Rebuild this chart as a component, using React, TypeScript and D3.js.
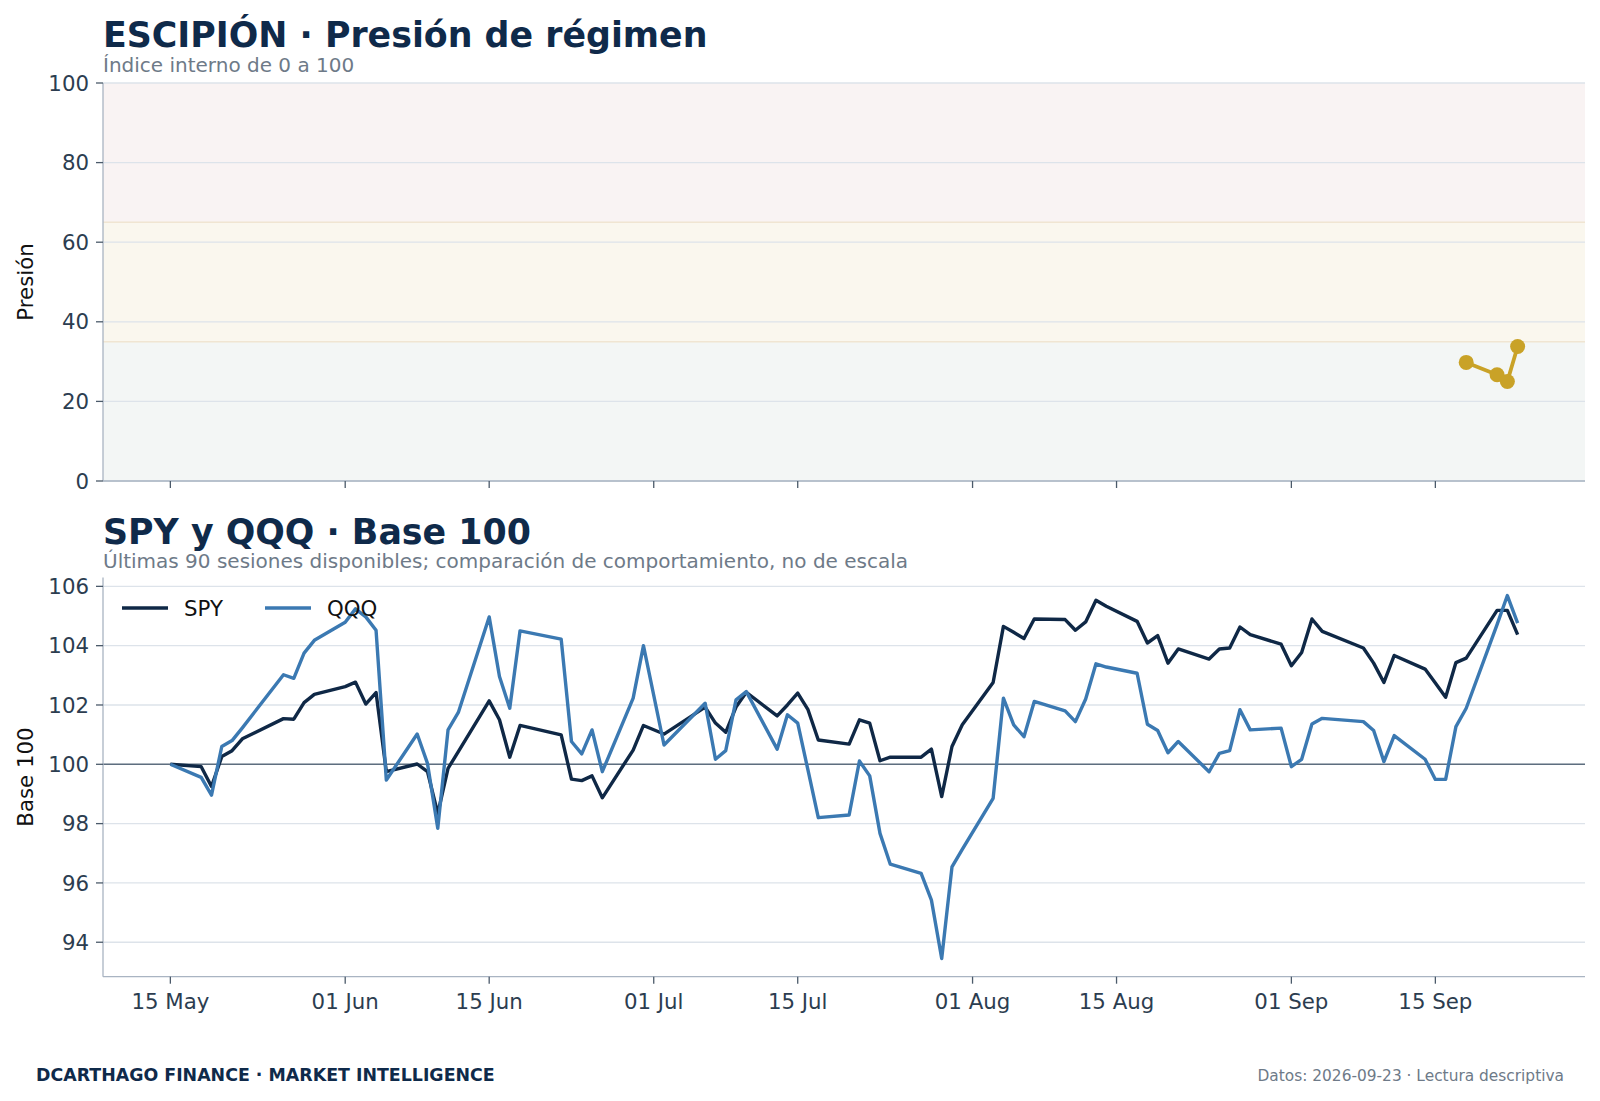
import React, { useRef, useEffect } from 'react';
import * as d3 from 'd3';

// sesiones (fechas de cierre)
const dates = [
  '2026-05-15', '2026-05-18', '2026-05-19', '2026-05-20', '2026-05-21', '2026-05-22',
  '2026-05-26', '2026-05-27', '2026-05-28', '2026-05-29',
  '2026-06-01', '2026-06-02', '2026-06-03', '2026-06-04', '2026-06-05',
  '2026-06-08', '2026-06-09', '2026-06-10', '2026-06-11', '2026-06-12',
  '2026-06-15', '2026-06-16', '2026-06-17', '2026-06-18',
  '2026-06-22', '2026-06-23', '2026-06-24', '2026-06-25', '2026-06-26',
  '2026-06-29', '2026-06-30', '2026-07-02',
  '2026-07-06', '2026-07-07', '2026-07-08', '2026-07-09', '2026-07-10',
  '2026-07-13', '2026-07-14', '2026-07-15', '2026-07-16', '2026-07-17',
  '2026-07-20', '2026-07-21', '2026-07-22', '2026-07-23', '2026-07-24',
  '2026-07-27', '2026-07-28', '2026-07-29', '2026-07-30', '2026-07-31',
  '2026-08-03', '2026-08-04', '2026-08-05', '2026-08-06', '2026-08-07',
  '2026-08-10', '2026-08-11', '2026-08-12', '2026-08-13', '2026-08-14',
  '2026-08-17', '2026-08-18', '2026-08-19', '2026-08-20', '2026-08-21',
  '2026-08-24', '2026-08-25', '2026-08-26', '2026-08-27', '2026-08-28',
  '2026-08-31', '2026-09-01', '2026-09-02', '2026-09-03', '2026-09-04',
  '2026-09-08', '2026-09-09', '2026-09-10', '2026-09-11',
  '2026-09-14', '2026-09-15', '2026-09-16', '2026-09-17', '2026-09-18',
  '2026-09-21', '2026-09-22', '2026-09-23',
];

const spyValues = [
  100.0, 99.92, 99.25, 100.26, 100.46, 100.86,
  101.54, 101.52, 102.08, 102.36,
  102.62, 102.77, 102.03, 102.42, 99.75,
  100.01, 99.75, 98.34, 99.86, 100.43,
  102.14, 101.5, 100.24, 101.31,
  100.99, 99.5, 99.45, 99.61, 98.87,
  100.48, 101.31, 101.02,
  101.93, 101.39, 101.08, 101.93, 102.43,
  101.63, 102.0, 102.4, 101.84, 100.82,
  100.68, 101.5, 101.39, 100.12, 100.24,
  100.24, 100.51, 98.91, 100.6, 101.33,
  102.76, 104.65, 104.45, 104.24, 104.9,
  104.88, 104.52, 104.8, 105.53, 105.33,
  104.82, 104.09, 104.34, 103.41, 103.89,
  103.55, 103.89, 103.92, 104.63, 104.37,
  104.05, 103.32, 103.77, 104.9, 104.48,
  103.92, 103.41, 102.76, 103.67,
  103.21, 102.74, 102.26, 103.43, 103.58,
  105.19, 105.19, 104.37,
];

const qqqValues = [
  100.0, 99.56, 98.96, 100.6, 100.8, 101.23,
  103.02, 102.9, 103.75, 104.18,
  104.79, 105.24, 104.97, 104.52, 99.47,
  101.02, 100.03, 97.84, 101.16, 101.75,
  104.97, 102.96, 101.89, 104.5,
  104.22, 100.77, 100.35, 101.16, 99.75,
  102.23, 104.0, 100.65,
  102.06, 100.17, 100.46, 102.17, 102.45,
  100.51, 101.67, 101.39, 99.8, 98.2,
  98.29, 100.11, 99.61, 97.67, 96.63,
  96.32, 95.42, 93.45, 96.54, 97.13,
  98.85, 102.23, 101.33, 100.93, 102.12,
  101.8, 101.44, 102.2, 103.39, 103.28,
  103.07, 101.35, 101.14, 100.39, 100.77,
  99.75, 100.37, 100.46, 101.84, 101.16,
  101.22, 99.92, 100.17, 101.36, 101.55,
  101.44, 101.14, 100.09, 100.97,
  100.17, 99.49, 99.49, 101.27, 101.89,
  104.71, 105.69, 104.76,
];

const pressureDates = ['2026-09-18', '2026-09-21', '2026-09-22', '2026-09-23'];
const pressureValues = [29.8, 26.7, 25.0, 33.8];

const regimeBreaks = [0, 35, 65, 100];
const pressureTicks = [0, 20, 40, 60, 80, 100];
const baseTicks = [94, 96, 98, 100, 102, 104, 106];
const dateTicks = [
  '2026-05-15', '2026-06-01', '2026-06-15', '2026-07-01', '2026-07-15',
  '2026-08-01', '2026-08-15', '2026-09-01', '2026-09-15',
];
const monthNames = ['Jan', 'Feb', 'Mar', 'Apr', 'May', 'Jun', 'Jul', 'Aug', 'Sep', 'Oct', 'Nov', 'Dec'];

const FONT = 'DejaVu Sans, Verdana, sans-serif';
const NAVY = '#0f2a4a';
const SPY_COLOR = '#0f2846';
const QQQ_COLOR = '#3b79b2';
const GOLD = '#c9a227';
const GRID = '#dde3ea';
const SPINE = '#a9b4c2';
const TICK_TXT = '#2c3d50';
const MUTED = '#6e7a88';
const TICK_SIZE = 21.3;

const App: React.FC = () => {
  const svgRef = useRef<SVGSVGElement>(null);

  useEffect(() => {
    if (!svgRef.current) return;
    const svg = d3.select(svgRef.current);
    svg.selectAll('*').remove();

    const W = 1600;
    const H = 1101;
    svg.attr('width', W).attr('height', H);
    svg.append('rect').attr('width', W).attr('height', H).attr('fill', '#ffffff');

    const parse = d3.utcParse('%Y-%m-%d');
    const days = dates.map(d => parse(d) as Date);
    const left = 103;
    const right = 1585;

    // eje de fechas compartido, con 5% de margen
    const t0 = +days[0];
    const t1 = +days[days.length - 1];
    const pad = (t1 - t0) * 0.05;
    const x = d3.scaleUtc()
      .domain([new Date(t0 - pad), new Date(t1 + pad)])
      .range([left, right]);
    const tickDays = dateTicks.map(d => parse(d) as Date);
    const fmt = (d: Date) => `${String(d.getUTCDate()).padStart(2, '0')} ${monthNames[d.getUTCMonth()]}`;

    // ---------- panel superior: presión ----------
    const topY0 = 481;
    const topY1 = 83;
    const yTop = d3.scaleLinear().domain([0, 100]).range([topY0, topY1]);
    const bandColors = ['#f3f6f5', '#faf7ee', '#f9f3f3'];

    const top = svg.append('g');
    for (let i = 0; i < regimeBreaks.length - 1; i++) {
      top.append('rect')
        .attr('x', left)
        .attr('y', yTop(regimeBreaks[i + 1]))
        .attr('width', right - left)
        .attr('height', yTop(regimeBreaks[i]) - yTop(regimeBreaks[i + 1]))
        .attr('fill', bandColors[i]);
    }
    top.selectAll('.grid')
      .data(pressureTicks)
      .enter().append('line')
      .attr('x1', left).attr('x2', right)
      .attr('y1', d => yTop(d)).attr('y2', d => yTop(d))
      .attr('stroke', GRID).attr('stroke-width', 1.3);
    top.selectAll('.edge')
      .data(regimeBreaks.slice(1, -1))
      .enter().append('line')
      .attr('x1', left).attr('x2', right)
      .attr('y1', d => yTop(d)).attr('y2', d => yTop(d))
      .attr('stroke', '#f0e5d2').attr('stroke-width', 1.5);

    top.append('line').attr('x1', left).attr('x2', left).attr('y1', topY1).attr('y2', topY0)
      .attr('stroke', SPINE).attr('stroke-width', 1.3);
    top.append('line').attr('x1', left).attr('x2', right).attr('y1', topY0).attr('y2', topY0)
      .attr('stroke', SPINE).attr('stroke-width', 1.3);

    top.selectAll('.ytick')
      .data(pressureTicks)
      .enter().append('line')
      .attr('x1', left - 7).attr('x2', left)
      .attr('y1', d => yTop(d)).attr('y2', d => yTop(d))
      .attr('stroke', '#4b5a6a').attr('stroke-width', 1.3);
    top.selectAll('.ylab')
      .data(pressureTicks)
      .enter().append('text')
      .attr('x', left - 14).attr('y', d => yTop(d))
      .attr('dy', '0.36em')
      .attr('text-anchor', 'end')
      .attr('font-family', FONT).attr('font-size', TICK_SIZE).attr('fill', TICK_TXT)
      .text(d => String(d));
    top.selectAll('.xtick')
      .data(tickDays)
      .enter().append('line')
      .attr('x1', d => x(d)).attr('x2', d => x(d))
      .attr('y1', topY0).attr('y2', topY0 + 7)
      .attr('stroke', '#4b5a6a').attr('stroke-width', 1.3);

    const pDays = pressureDates.map(d => parse(d) as Date);
    const pLine = d3.line<number>()
      .x((_, i) => x(pDays[i]))
      .y(d => yTop(d));
    top.append('path')
      .attr('d', pLine(pressureValues) as string)
      .attr('fill', 'none').attr('stroke', GOLD).attr('stroke-width', 3.8)
      .attr('stroke-linejoin', 'round');
    top.selectAll('.pt')
      .data(pressureValues)
      .enter().append('circle')
      .attr('cx', (_, i) => x(pDays[i]))
      .attr('cy', d => yTop(d))
      .attr('r', 7.5)
      .attr('fill', GOLD);

    top.append('text')
      .attr('transform', `translate(33,${(topY0 + topY1) / 2}) rotate(-90)`)
      .attr('text-anchor', 'middle')
      .attr('font-family', FONT).attr('font-size', TICK_SIZE).attr('fill', '#111')
      .text('Presión');

    top.append('text')
      .attr('x', left).attr('y', 47)
      .attr('font-family', FONT).attr('font-size', 34.8).attr('font-weight', 'bold').attr('fill', NAVY)
      .text('ESCIPIÓN · Presión de régimen');
    top.append('text')
      .attr('x', left).attr('y', 72)
      .attr('font-family', FONT).attr('font-size', 20).attr('fill', MUTED)
      .text('Índice interno de 0 a 100');

    // ---------- panel inferior: SPY y QQQ ----------
    const botY0 = 976.7;
    const botY1 = 577.4;
    const all = spyValues.concat(qqqValues);
    const lo = d3.min(all) as number;
    const hi = d3.max(all) as number;
    const vpad = (hi - lo) * 0.05;
    const yBot = d3.scaleLinear().domain([lo - vpad, hi + vpad]).range([botY0, botY1]);

    const bot = svg.append('g');
    bot.selectAll('.grid')
      .data(baseTicks)
      .enter().append('line')
      .attr('x1', left).attr('x2', right)
      .attr('y1', d => yBot(d)).attr('y2', d => yBot(d))
      .attr('stroke', GRID).attr('stroke-width', 1.3);
    bot.append('line')
      .attr('x1', left).attr('x2', right)
      .attr('y1', yBot(100)).attr('y2', yBot(100))
      .attr('stroke', '#5e6e7f').attr('stroke-width', 1.4);

    bot.append('line').attr('x1', left).attr('x2', left).attr('y1', botY1).attr('y2', botY0)
      .attr('stroke', SPINE).attr('stroke-width', 1.3);
    bot.append('line').attr('x1', left).attr('x2', right).attr('y1', botY0).attr('y2', botY0)
      .attr('stroke', SPINE).attr('stroke-width', 1.3);

    bot.selectAll('.ytick')
      .data(baseTicks)
      .enter().append('line')
      .attr('x1', left - 7).attr('x2', left)
      .attr('y1', d => yBot(d)).attr('y2', d => yBot(d))
      .attr('stroke', '#4b5a6a').attr('stroke-width', 1.3);
    bot.selectAll('.ylab')
      .data(baseTicks)
      .enter().append('text')
      .attr('x', left - 14).attr('y', d => yBot(d))
      .attr('dy', '0.36em')
      .attr('text-anchor', 'end')
      .attr('font-family', FONT).attr('font-size', TICK_SIZE).attr('fill', TICK_TXT)
      .text(d => String(d));
    bot.selectAll('.xtick')
      .data(tickDays)
      .enter().append('line')
      .attr('x1', d => x(d)).attr('x2', d => x(d))
      .attr('y1', botY0).attr('y2', botY0 + 7)
      .attr('stroke', '#4b5a6a').attr('stroke-width', 1.3);
    bot.selectAll('.xlab')
      .data(tickDays)
      .enter().append('text')
      .attr('x', d => x(d)).attr('y', botY0 + 32)
      .attr('text-anchor', 'middle')
      .attr('font-family', FONT).attr('font-size', TICK_SIZE).attr('fill', TICK_TXT)
      .text(d => fmt(d));

    const line = d3.line<number>()
      .x((_, i) => x(days[i]))
      .y(d => yBot(d));
    bot.append('path')
      .attr('d', line(spyValues) as string)
      .attr('fill', 'none').attr('stroke', SPY_COLOR).attr('stroke-width', 3.4)
      .attr('stroke-linejoin', 'round');
    bot.append('path')
      .attr('d', line(qqqValues) as string)
      .attr('fill', 'none').attr('stroke', QQQ_COLOR).attr('stroke-width', 3.4)
      .attr('stroke-linejoin', 'round');

    // leyenda
    const legend = [
      { name: 'SPY', color: SPY_COLOR, x: 122 },
      { name: 'QQQ', color: QQQ_COLOR, x: 265 },
    ];
    const ly = 608;
    legend.forEach(l => {
      bot.append('line')
        .attr('x1', l.x).attr('x2', l.x + 46)
        .attr('y1', ly).attr('y2', ly)
        .attr('stroke', l.color).attr('stroke-width', 3.4);
      bot.append('text')
        .attr('x', l.x + 62).attr('y', ly).attr('dy', '0.36em')
        .attr('font-family', FONT).attr('font-size', TICK_SIZE).attr('fill', '#111')
        .text(l.name);
    });

    bot.append('text')
      .attr('transform', `translate(33,${(botY0 + botY1) / 2}) rotate(-90)`)
      .attr('text-anchor', 'middle')
      .attr('font-family', FONT).attr('font-size', TICK_SIZE).attr('fill', '#111')
      .text('Base 100');

    bot.append('text')
      .attr('x', left).attr('y', 544)
      .attr('font-family', FONT).attr('font-size', 34.8).attr('font-weight', 'bold').attr('fill', NAVY)
      .text('SPY y QQQ · Base 100');
    bot.append('text')
      .attr('x', left).attr('y', 568)
      .attr('font-family', FONT).attr('font-size', 20).attr('fill', MUTED)
      .text('Últimas 90 sesiones disponibles; comparación de comportamiento, no de escala');

    // pie
    svg.append('text')
      .attr('x', 36).attr('y', 1081)
      .attr('font-family', FONT).attr('font-size', 17.4).attr('font-weight', 'bold').attr('fill', NAVY)
      .text('DCARTHAGO FINANCE · MARKET INTELLIGENCE');
    svg.append('text')
      .attr('x', 1564).attr('y', 1081)
      .attr('text-anchor', 'end')
      .attr('font-family', FONT).attr('font-size', 15.4).attr('fill', MUTED)
      .text('Datos: 2026-09-23 · Lectura descriptiva');
  }, []);

  return <svg ref={svgRef} style={{ position: 'absolute', left: 0, top: 0, display: 'block' }}></svg>;
};

export default App;
